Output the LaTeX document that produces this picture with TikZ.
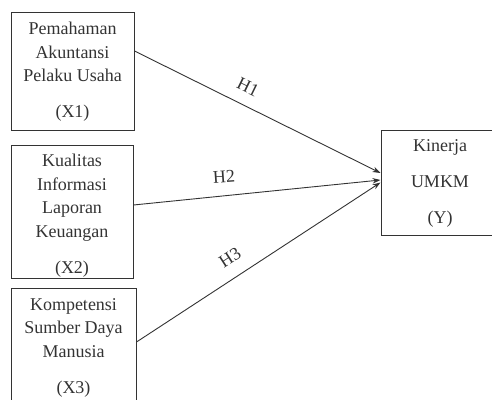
\documentclass[tikz,border=0pt]{standalone}
\usepackage{fontspec}
\setmainfont{Liberation Serif}
\usetikzlibrary{arrows.meta}
\definecolor{ink}{HTML}{333333}
\begin{document}
\begin{tikzpicture}[x=1pt,y=-1pt,
  varbox/.style={draw=ink, line width=1pt, inner sep=0pt, minimum width=#1},
  vartext/.style={text=ink, align=center, inner sep=0pt, font=\fontsize{18}{23.5}\selectfont},
  conn/.style={draw=ink, line width=0.9pt, -{Stealth[length=8pt,width=5.5pt]}},
  hyp/.style={text=ink, inner sep=0pt, font=\fontsize{18}{22}\selectfont}]
\useasboundingbox (0,0) rectangle (492,399);
\clip (0,0) rectangle (492,399);
% boxes
\node[varbox=123pt, minimum height=118pt] (x1) at (72.5,71) {};
\node[varbox=122pt, minimum height=133pt] (x2) at (72,211.5) {};
\node[varbox=125pt, minimum height=122pt] (x3) at (73.5,349) {};
\node[varbox=118pt, minimum height=105pt] (y) at (440,182.5) {};
% texts
\node[vartext] (x1t) at (72.5,72) {Pemahaman\\Akuntansi\\Pelaku Usaha\\[12.5pt](X1)};
\node[vartext] (x2t) at (72,215.5) {Kualitas\\Informasi\\Laporan\\Keuangan\\[12.5pt](X2)};
\node[vartext] (x3t) at (73.5,347.5) {Kompetensi\\Sumber Daya\\Manusia\\[12.5pt](X3)};
\node[vartext] (yt) at (440,183.5) {Kinerja\\[12.5pt]UMKM\\[13pt](Y)};
% connectors
\draw[conn] ([yshift=20pt]x1.east) -- ([yshift=9.5pt]y.west);
\draw[conn] ([yshift=6.5pt]x2.east) -- ([yshift=2.5pt]y.west);
\draw[conn] ([yshift=7pt]x3.east) -- ([yshift=0pt]y.west);
% labels
\node[hyp, rotate=-26] (h1) at (248,87) {H1};
\node[hyp, rotate=4] (h2) at (224,177) {H2};
\node[hyp, rotate=33] (h3) at (230,258) {H3};
\end{tikzpicture}
\end{document}
